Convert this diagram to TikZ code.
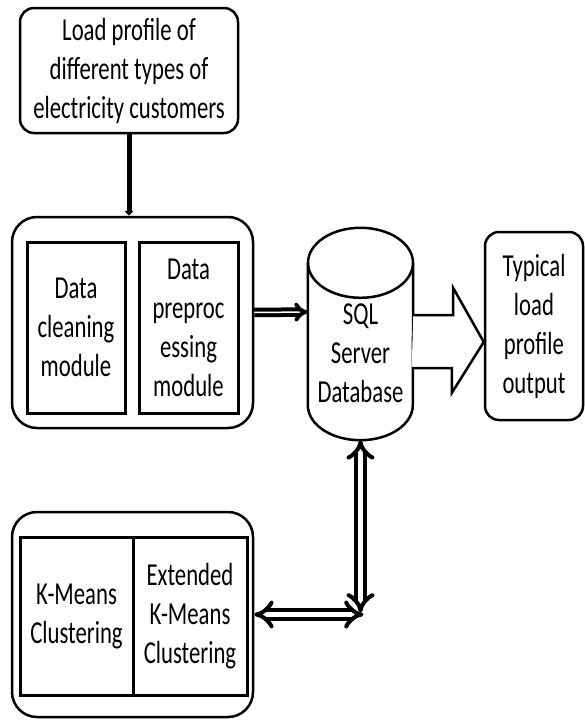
\documentclass[tikz,border=0pt]{standalone}
\usepackage{fontspec}
\setmainfont{Carlito}[FakeStretch=0.71]
\usetikzlibrary{arrows.meta,calc}
\begin{document}
\begin{tikzpicture}[x=1pt,y=-1pt,
  lbl/.style={font=\fontsize{32}{39}\selectfont, align=center, inner sep=0pt},
  outerbox/.style={draw, line width=2.5pt, rounded corners=25pt, inner sep=0pt},
  roundbox/.style={draw, line width=2.5pt, rounded corners=14pt, inner sep=0pt, lbl},
  modbox/.style={draw, line width=3pt, inner sep=0pt, lbl},
  dblarrow/.style={double, double distance=5pt, line width=4pt, {Implies}-{Implies}},
]
\useasboundingbox (0,0) rectangle (585,720);

% input data
\node[roundbox, minimum width=218pt, minimum height=125pt] (src) at (129,70.5)
  {Load profile of\\different types of\\electricity customers};

% preprocessing stage
\node[outerbox, minimum width=241pt, minimum height=211pt] (prep) at (132.5,322.5) {};
\node[modbox, minimum width=98pt, minimum height=171pt] (clean) at (76,327.5)
  {Data\\cleaning\\module};
\node[modbox, minimum width=99pt, minimum height=171pt] (pproc) at (188.5,327.5)
  {Data\\preproc\\essing\\module};

% database cylinder
\node[minimum width=105pt, minimum height=212pt, inner sep=0pt] (db) at (360.5,334) {};
\draw[line width=2.5pt, fill=white]
  ([yshift=-35pt]db.north west) -- ([yshift=35pt]db.south west)
  arc[start angle=180, end angle=360, x radius=52.5pt, y radius=35pt]
  -- ([yshift=-35pt]db.north east);
\draw[line width=2.5pt] ([yshift=-35pt]db.north) ellipse[x radius=52.5pt, y radius=35pt];
\node[lbl] (dbt) at ([yshift=-19pt]db.center) {SQL\\Server\\Database};

% output
\node[roundbox, minimum width=98pt, minimum height=188pt] (typ) at (534,326)
  {Typical\\load\\profile\\output};

% clustering stage
\node[outerbox, minimum width=241pt, minimum height=205pt] (clus) at (132.5,614.5) {};
\node[modbox, minimum width=113pt, minimum height=158pt] (km) at (76.5,616)
  {K-Means\\Clustering};
\node[modbox, minimum width=114pt, minimum height=158pt] (ekm) at (190,616)
  {Extended\\K-Means\\Clustering};

% connectors
\draw[line width=5pt, -{Triangle[length=5pt, width=9pt]}] (src.south) -- (src.south |- prep.north);
\draw[double, double distance=1.5pt, line width=4pt, -{Implies}]
  ([yshift=10pt]prep.east) -- ([yshift=22pt]db.west);

\draw[line width=2.5pt, fill=white, line join=miter]
  ([yshift=19pt]db.east) -- ++(40,0) -- ++(0,-27) -- ([yshift=-16pt]typ.west)
  -- ++(-32,51) -- ++(0,-25) -- ++(-40,0);

\coordinate (corner) at (db.south |- clus.east);
\draw[dblarrow] (db.south) -- ([yshift=2pt]corner);
\draw[dblarrow] (clus.east) -- ([xshift=3pt]corner);
\end{tikzpicture}
\end{document}
